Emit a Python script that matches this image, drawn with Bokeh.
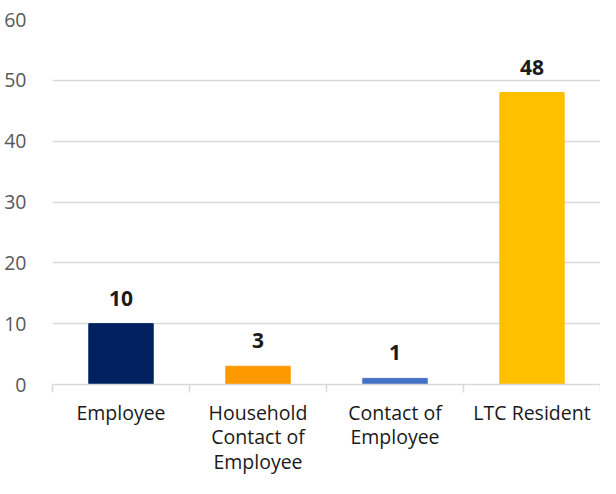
from bokeh.plotting import figure
from bokeh.models import Range1d, FixedTicker, ColumnDataSource, LabelSet
from bokeh.core.properties import value
from bokeh.embed import file_html
from bokeh.resources import INLINE

categories = ["Employee", "Household\nContact of\nEmployee", "Contact of\nEmployee", "LTC Resident"]
values = [10, 3, 1, 48]
colors = ["#002060", "#FF9900", "#4472C4", "#FFC000"]
y_ticks = [0, 10, 20, 30, 40, 50, 60]

xs = list(range(len(categories)))
src = ColumnDataSource(dict(x=xs, top=values, color=colors, label=[str(v) for v in values]))

p = figure(width=600, height=478, output_backend="svg", toolbar_location=None,
           x_range=Range1d(-0.5, 3.5), y_range=Range1d(0, 60),
           min_border_left=52, min_border_right=0, min_border_top=19, min_border_bottom=0)
p.outline_line_color = None
p.background_fill_color = "white"
p.border_fill_color = "white"

p.vbar(x="x", top="top", width=0.47, color="color", source=src)

labels = LabelSet(x="x", y="top", text="label", source=src, text_align="center",
                  text_baseline="bottom", y_offset=18, text_font=value("Open Sans"),
                  text_font_style="bold", text_font_size="21px", text_color="#1a1a1a")
p.add_layout(labels)

# grid
p.xgrid.grid_line_color = None
p.ygrid.ticker = FixedTicker(ticks=y_ticks)
p.ygrid.grid_line_color = "#D9D9D9"
p.ygrid.grid_line_width = 1.5

# y axis
p.yaxis.ticker = FixedTicker(ticks=y_ticks)
p.yaxis.axis_line_color = None
p.yaxis.major_tick_line_color = None
p.yaxis.minor_tick_line_color = None
p.yaxis.major_label_standoff = 20
p.yaxis.major_label_text_font = "Open Sans"
p.yaxis.major_label_text_font_size = "19.5px"
p.yaxis.major_label_text_color = "#595959"

# x axis
p.xaxis.ticker = FixedTicker(ticks=xs, minor_ticks=[-0.5, 0.5, 1.5, 2.5, 3.5])
p.xaxis.major_label_overrides = {i: c for i, c in enumerate(categories)}
p.xaxis.axis_line_color = "#D9D9D9"
p.xaxis.axis_line_width = 1.5
p.xaxis.major_tick_line_color = None
p.xaxis.minor_tick_line_color = "#D9D9D9"
p.xaxis.minor_tick_line_width = 1.5
p.xaxis.minor_tick_out = 8
p.xaxis.minor_tick_in = 0
p.xaxis.major_label_standoff = 6
p.xaxis.major_label_text_font = "Open Sans"
p.xaxis.major_label_text_font_size = "19.5px"
p.xaxis.major_label_text_color = "#1a1a1a"
p.xaxis.major_label_text_line_height = 0.92

open("out.html", "w").write(file_html(p, INLINE))
